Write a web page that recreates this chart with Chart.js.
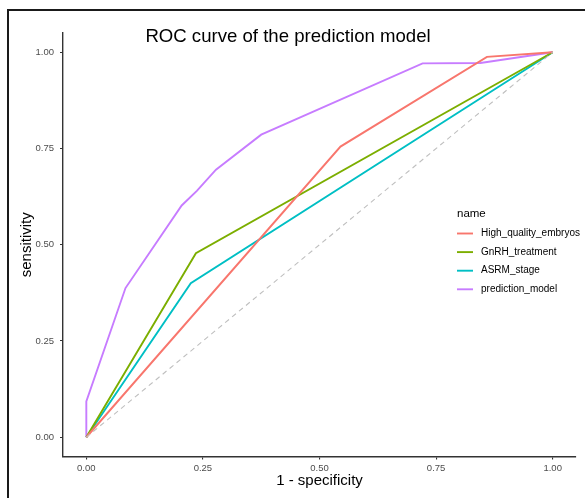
<!DOCTYPE html>
<html>
<head>
<meta charset="utf-8">
<script src="https://cdn.jsdelivr.net/npm/chart.js@4.4.1/dist/chart.umd.min.js"></script>
<style>
  html, body { margin: 0; padding: 0; background: #fff; }
  canvas { display: block; }
</style>
</head>
<body>
<canvas id="c" width="585" height="498"></canvas>
<script>
// ---- data ----
const seriesNames = ["High_quality_embryos", "GnRH_treatment", "ASRM_stage", "prediction_model"];
const hqX   = [0, 0.545, 0.859, 1];
const hqY   = [0, 0.755, 0.988, 1];
const gnrhX = [0, 0.235, 1];
const gnrhY = [0, 0.478, 1];
const asrmX = [0, 0.224, 1];
const asrmY = [0, 0.400, 1];
const predX = [0, 0, 0.084, 0.2045, 0.237, 0.278, 0.375, 0.721, 0.845, 1];
const predY = [0, 0.093, 0.3875, 0.602, 0.640, 0.695, 0.786, 0.971, 0.972, 1];
const refX  = [0, 1];
const refY  = [0, 1];
const xTicks = [0, 0.25, 0.5, 0.75, 1];
const yTicks = [0, 0.25, 0.5, 0.75, 1];
const colors = ["#F8766D", "#7CAE00", "#00BFC4", "#C77CFF"];

const pts = (xs, ys) => xs.map((x, i) => ({x: x, y: ys[i]}));
const FONT = "'Liberation Sans', Arial, sans-serif";

const lineDs = (label, xs, ys, color) => ({
  label: label, data: pts(xs, ys), showLine: true, borderColor: color,
  backgroundColor: color, borderWidth: 1.9, pointRadius: 0, pointHoverRadius: 0,
  tension: 0, fill: false
});

const datasets = [
  { label: "_ref", data: pts(refX, refY), showLine: true, borderColor: "#bfbfbf",
    borderWidth: 1.1, borderDash: [5, 4], pointRadius: 0, fill: false },
  lineDs(seriesNames[0], hqX, hqY, colors[0]),
  lineDs(seriesNames[1], gnrhX, gnrhY, colors[1]),
  lineDs(seriesNames[2], asrmX, asrmY, colors[2]),
  lineDs(seriesNames[3], predX, predY, colors[3])
];

const decor = {
  id: "decor",
  beforeDraw(chart) {
    const ctx = chart.ctx;
    ctx.save();
    ctx.fillStyle = "#fff";
    ctx.fillRect(0, 0, chart.width, chart.height);
    ctx.restore();
  },
  afterDraw(chart) {
    const ctx = chart.ctx;
    ctx.save();
    // outer frame (left + top)
    ctx.fillStyle = "#1a1a1a";
    ctx.fillRect(7, 9, 2, chart.height - 9);
    ctx.fillRect(7, 9, chart.width - 7, 2);
    // title
    ctx.fillStyle = "#000";
    ctx.font = "18.6px " + FONT;
    ctx.textAlign = "center";
    ctx.textBaseline = "alphabetic";
    ctx.fillText("ROC curve of the prediction model", 288, 42);
    // legend
    ctx.textAlign = "left";
    ctx.textBaseline = "middle";
    ctx.font = "11.5px " + FONT;
    ctx.fillText("name", 457, 214);
    ctx.font = "10px " + FONT;
    const ds = chart.data.datasets.filter(d => d.label !== "_ref");
    ds.forEach((d, i) => {
      const y = 233.5 + i * 18.6;
      ctx.strokeStyle = d.borderColor;
      ctx.lineWidth = 1.9;
      ctx.beginPath();
      ctx.moveTo(457, y);
      ctx.lineTo(473, y);
      ctx.stroke();
      ctx.fillStyle = "#000";
      ctx.fillText(d.label, 481, y);
    });
    ctx.restore();
  }
};

new Chart(document.getElementById("c"), {
  type: "scatter",
  data: { datasets: datasets },
  plugins: [decor],
  options: {
    responsive: false,
    animation: false,
    devicePixelRatio: 1,
    layout: { padding: { left: 10, top: 33, right: 9, bottom: 0 } },
    plugins: { legend: { display: false }, tooltip: { enabled: false }, title: { display: false } },
    scales: {
      x: {
        type: "linear", min: -0.05, max: 1.05,
        afterBuildTicks: s => { s.ticks = xTicks.map(v => ({value: v})); },
        afterFit: s => { s.height = 41.5; },
        grid: { display: true, drawOnChartArea: false, drawTicks: true, tickLength: 3, color: "#333", lineWidth: 1.1 },
        border: { display: true, color: "#333", width: 1.4 },
        ticks: { color: "#4d4d4d", font: { size: 9.5, family: FONT }, padding: 3,
                 callback: v => Number(v).toFixed(2), maxRotation: 0 },
        title: { display: true, text: "1 - specificity", color: "#000",
                 font: { size: 15, family: FONT }, padding: { top: 0, bottom: 8 } }
      },
      y: {
        type: "linear", min: -0.05, max: 1.05,
        afterBuildTicks: s => { s.ticks = yTicks.map(v => ({value: v})); },
        afterFit: s => { s.width = 53; },
        grid: { display: true, drawOnChartArea: false, drawTicks: true, tickLength: 3, color: "#333", lineWidth: 1.1 },
        border: { display: true, color: "#333", width: 1.4 },
        ticks: { color: "#4d4d4d", font: { size: 9.5, family: FONT }, padding: 6,
                 callback: v => Number(v).toFixed(2) },
        title: { display: true, text: "sensitivity", color: "#000",
                 font: { size: 15, family: FONT }, padding: { top: 8, bottom: 0 } }
      }
    }
  }
});
</script>
</body>
</html>
